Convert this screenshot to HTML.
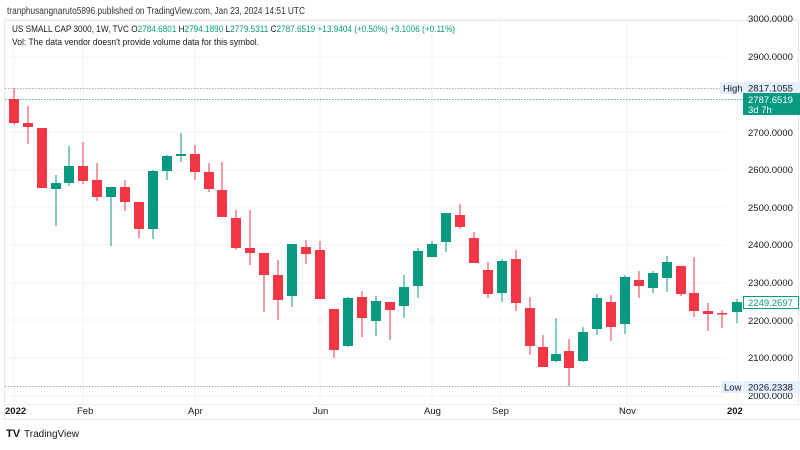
<!DOCTYPE html>
<html><head><meta charset="utf-8"><style>
body{margin:0;background:#fff;width:800px;height:445px;overflow:hidden;font-family:"Liberation Sans",sans-serif;}
</style></head><body>
<svg width="800" height="445" xmlns="http://www.w3.org/2000/svg" font-family="Liberation Sans, sans-serif">
<rect width="800" height="445" fill="#fff"/>
<text x="7" y="14" font-size="10" fill="#333" textLength="298" lengthAdjust="spacingAndGlyphs">tranphusangnaruto5896 published on TradingView.com, Jan 23, 2024 14:51 UTC</text>
<rect x="4.5" y="20.5" width="794" height="399" fill="none" stroke="#e6e6e6"/>
<g stroke="#f2f3f5" stroke-width="1">
<line x1="5" x2="725" y1="57" y2="57"/><line x1="5" x2="725" y1="132" y2="132"/>
<line x1="5" x2="725" y1="170" y2="170"/><line x1="5" x2="725" y1="207" y2="207"/>
<line x1="5" x2="725" y1="245" y2="245"/><line x1="5" x2="725" y1="283" y2="283"/>
<line x1="5" x2="725" y1="320" y2="320"/><line x1="5" x2="725" y1="358" y2="358"/>
<line x1="5" x2="725" y1="396" y2="396"/><line x1="5" x2="725" y1="19" y2="19"/>
<line x1="14" x2="14" y1="21" y2="404"/><line x1="83" x2="83" y1="21" y2="404"/>
<line x1="195" x2="195" y1="21" y2="404"/><line x1="320" x2="320" y1="21" y2="404"/>
<line x1="432" x2="432" y1="21" y2="404"/><line x1="500" x2="500" y1="21" y2="404"/>
<line x1="627" x2="627" y1="21" y2="404"/><line x1="737" x2="737" y1="21" y2="404"/>
</g>
<line x1="5" x2="720" y1="88.5" y2="88.5" stroke="#aaa" stroke-dasharray="1.5,1.5"/>
<line x1="5" x2="743" y1="99.5" y2="99.5" stroke="#089981" stroke-dasharray="1.5,1.5" opacity="0.7"/>
<line x1="5" x2="720" y1="386.5" y2="386.5" stroke="#aaa" stroke-dasharray="1.5,1.5"/>
<line x1="5" x2="798" y1="404.5" y2="404.5" stroke="#eee"/>
<text x="12" y="32" font-size="9.5" fill="#131722" textLength="443" lengthAdjust="spacingAndGlyphs">US SMALL CAP 3000, 1W, TVC  <tspan>O</tspan><tspan fill="#089981">2784.6801</tspan>  H<tspan fill="#089981">2794.1890</tspan>  L<tspan fill="#089981">2779.5311</tspan>  C<tspan fill="#089981">2787.6519</tspan>  <tspan fill="#089981">+13.9404 (+0.50%)  +3.1006 (+0.11%)</tspan></text>
<text x="12" y="45" font-size="9.5" fill="#131722" textLength="247" lengthAdjust="spacingAndGlyphs">Vol: The data vendor doesn't provide volume data for this symbol.</text>
<g id="c"></g>
<g font-size="9.5" fill="#131722">
<text x="748" y="22">3000.0000</text><text x="748" y="60">2900.0000</text>
<text x="748" y="136">2700.0000</text><text x="748" y="173">2600.0000</text>
<text x="748" y="211">2500.0000</text><text x="748" y="248">2400.0000</text>
<text x="748" y="286">2300.0000</text><text x="748" y="324">2200.0000</text>
<text x="748" y="361">2100.0000</text><text x="748" y="399">2000.0000</text>
</g>
<rect x="720" y="82" width="22" height="12" fill="#e3effd"/><text x="723" y="91.5" font-size="9.5" fill="#131722">High</text>
<rect x="743" y="82" width="57" height="12" fill="#e3effd"/><text x="748" y="91.5" font-size="9.5" fill="#131722">2817.1055</text>
<rect x="743" y="93" width="57" height="22" fill="#089981"/><text x="748" y="103" font-size="9.5" fill="#fff">2787.6519</text><text x="748" y="113" font-size="9.5" fill="#fff">3d 7h</text>
<rect x="743.5" y="296.5" width="55" height="12" fill="#fff" stroke="#089981"/><text x="748" y="306" font-size="9.5" fill="#089981">2249.2697</text>
<rect x="721" y="381" width="21" height="12" fill="#e3effd"/><text x="724" y="390.5" font-size="9.5" fill="#131722">Low</text>
<rect x="743" y="381" width="57" height="12" fill="#e3effd"/><text x="748" y="390.5" font-size="9.5" fill="#131722">2026.2338</text>
<g font-size="9.5" fill="#131722">
<text x="5" y="414" font-weight="bold">2022</text><text x="77" y="414">Feb</text><text x="188" y="414">Apr</text>
<text x="313" y="414">Jun</text><text x="424" y="414">Aug</text><text x="492" y="414">Sep</text>
<text x="619" y="414">Nov</text><text x="727" y="414" font-weight="bold">2023</text>
</g>
<rect x="742" y="405" width="58" height="14" fill="#fff"/>
<text x="6" y="437" font-size="11" font-weight="bold" fill="#131722">TV</text>
<text x="24" y="437" font-size="10" fill="#131722">TradingView</text>
</svg>
<script>
var R="#f23645",G="#089981";
var d=[[14,99,123,88,125,R],[28,123,127,106,144,R],[42,128,188,128,188,R],[56,183,189,175,226,G],[69,166,183,146,186,G],[83,166,181,142,184,R],[97,180,197,163,201,R],[111,187,197,187,246,G],[125,187,202,180,211,R],[139,202,229,202,238,R],[153,171,229,170,239,G],[167,156,171,155,180,G],[181,154,156,133,162,G],[195,154,172,145,180,R],[209,172,189,163,192,R],[222,190,217,162,217,R],[236,218,248,210,250,R],[250,248,253,210,265,R],[264,253,275,253,312,R],[278,275,300,260,320,R],[292,244,296,244,307,G],[306,247,254,240,264,R],[320,250,299,241,299,R],[334,309,350,309,358,R],[348,298,346,297,347,G],[362,297,318,291,337,R],[376,301,321,296,336,G],[390,302,310,302,340,R],[404,287,306,275,318,G],[418,251,286,248,298,G],[432,244,257,241,251,G],[446,213,242,213,252,G],[460,215,227,204,229,R],[474,238,263,232,263,R],[488,270,294,262,298,R],[502,261,293,259,302,G],[516,259,303,250,311,R],[530,308,346,297,355,R],[543,347,367,335,367,R],[556,354,361,318,362,G],[569,351,368,339,386,R],[583,332,361,327,362,G],[597,298,329,294,335,G],[611,302,327,295,341,R],[625,277,324,275,334,G],[639,280,286,271,298,R],[653,273,288,271,293,G],[667,262,278,256,292,G],[681,266,294,266,296,R],[694,293,311,257,317,R],[708,311,314,303,331,R],[722,313,314,310,328,R],[737,302,312,299,323,G]];
var s="";d.forEach(function(c){var t=Math.min(c[1],c[2]),b=Math.max(c[1],c[2]);if(b-t<1.5)b=t+1.5;
s+='<line x1="'+c[0]+'" x2="'+c[0]+'" y1="'+c[3]+'" y2="'+c[4]+'" stroke="'+c[5]+'" stroke-width="1"/>';
s+='<rect x="'+(c[0]-5)+'" y="'+t+'" width="10" height="'+(b-t)+'" fill="'+c[5]+'"/>';});
document.getElementById("c").innerHTML=s;
</script>
</body></html>
